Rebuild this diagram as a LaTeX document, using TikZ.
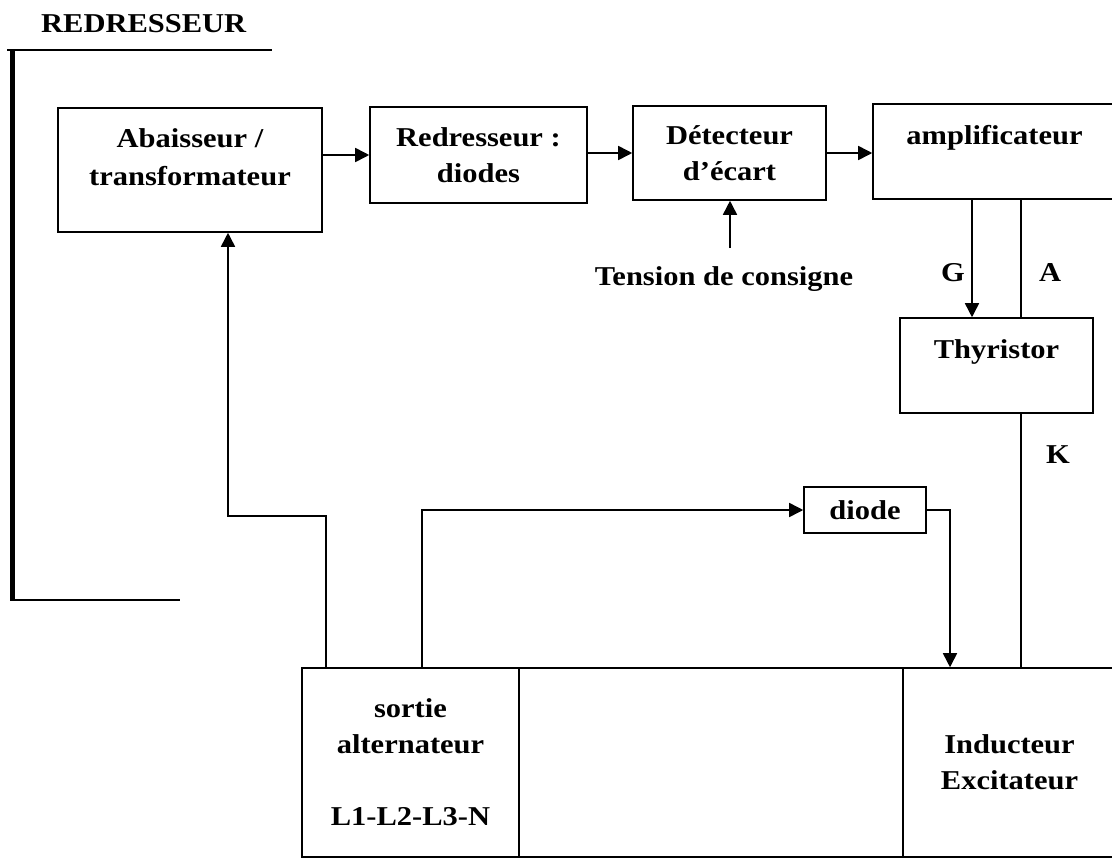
\documentclass[tikz,border=0pt]{standalone}
\usepackage{fontspec}
\setmainfont[FakeStretch=1.12]{Liberation Serif}
\usetikzlibrary{arrows.meta}

\begin{document}
\begin{tikzpicture}[x=0.02cm, y=-0.02cm,
    bloc/.style={draw, line width=0.9pt, align=center, inner sep=0pt,
      font=\fontsize{15.5}{20.5}\selectfont\bfseries},
    trait/.style={line width=0.9pt},
    fleche/.style={trait, -{Triangle[length=0.28cm, width=0.28cm]}},
    lettre/.style={font=\fontsize{15.5}{20.5}\selectfont\bfseries}]
  \useasboundingbox (0,0) rectangle (1112,859);

  % cadre du redresseur
  \node[lettre, anchor=base west] (titre) at (35,32) {REDRESSEUR};
  \draw[trait] (7,50) -- (272,50);
  \draw[line width=2.8pt] (12.5,49) -- (12.5,601);
  \draw[trait] (12,600) -- (180,600);

  % chaine de regulation
  \node[bloc, minimum width=5.28cm, minimum height=2.48cm] (abaiss) at (190,170)
    {Abaisseur /\\[1.5pt]transformateur\\[-12pt]\strut};
  \node[bloc, minimum width=4.34cm, minimum height=1.92cm] (redress) at (478.5,155)
    {Redresseur :\\diodes};
  \node[bloc, minimum width=3.86cm, minimum height=1.88cm] (detect) at (729.5,153)
    {Détecteur\\d’écart};
  \node[bloc, minimum width=4.86cm, minimum height=1.9cm] (ampli) at (994.5,151.5)
    {amplificateur\\[-8pt]\strut};
  \node[bloc, minimum width=3.86cm, minimum height=1.9cm] (thyr) at (996.5,365.5)
    {Thyristor\\[-8pt]\strut};
  \node[bloc, minimum width=2.44cm, minimum height=0.92cm] (diode) at (865,510) {diode};

  % alternateur
  \node[bloc, minimum width=4.34cm, minimum height=3.78cm] (sortie) at (410.5,762.5)
    {sortie\\alternateur\\[20.5pt]L1-L2-L3-N};
  \node[bloc, minimum width=7.68cm, minimum height=3.78cm] (milieu) at (711,762.5) {};
  \node[bloc, minimum width=4.26cm, minimum height=3.78cm] (induct) at (1009.5,762.5)
    {Inducteur\\Excitateur};

  % reperes
  \node[lettre, anchor=base] (consigne) at (724,285) {Tension de consigne};
  \node[lettre] (lg) at (953,273) {G};
  \node[lettre] (la) at (1050,273) {A};
  \node[lettre] (lk) at (1058,455) {K};

  \coordinate (cs) at (730,248);
  \coordinate (g) at (972,250);
  \coordinate (a) at (1021,250);
  \coordinate (fbA) at (326,516);
  \coordinate (fbB) at (228,516);
  \coordinate (dA) at (422,513);
  \coordinate (dB) at (950,510);

  % liaisons
  \draw[fleche] (abaiss.east |- redress.west) -- (redress.west);
  \draw[fleche] (redress.east |- detect.west) -- (detect.west);
  \draw[fleche] (detect.east) -- (detect.east -| ampli.west);
  \draw[fleche] (cs) -- (cs |- detect.south);
  \draw[fleche] (g |- ampli.south) -- (g |- thyr.north);
  \draw[trait] (a |- ampli.south) -- (a |- thyr.north);
  \draw[trait] (a |- thyr.south) -- (a |- induct.north);
  \draw[fleche] (fbA |- sortie.north) -- (fbA) -- (fbB) -- (fbB |- abaiss.south);
  \draw[fleche] (dA |- sortie.north) |- (diode.west);
  \draw[fleche] (diode.east) -| (dB |- milieu.north);
\end{tikzpicture}
\end{document}
